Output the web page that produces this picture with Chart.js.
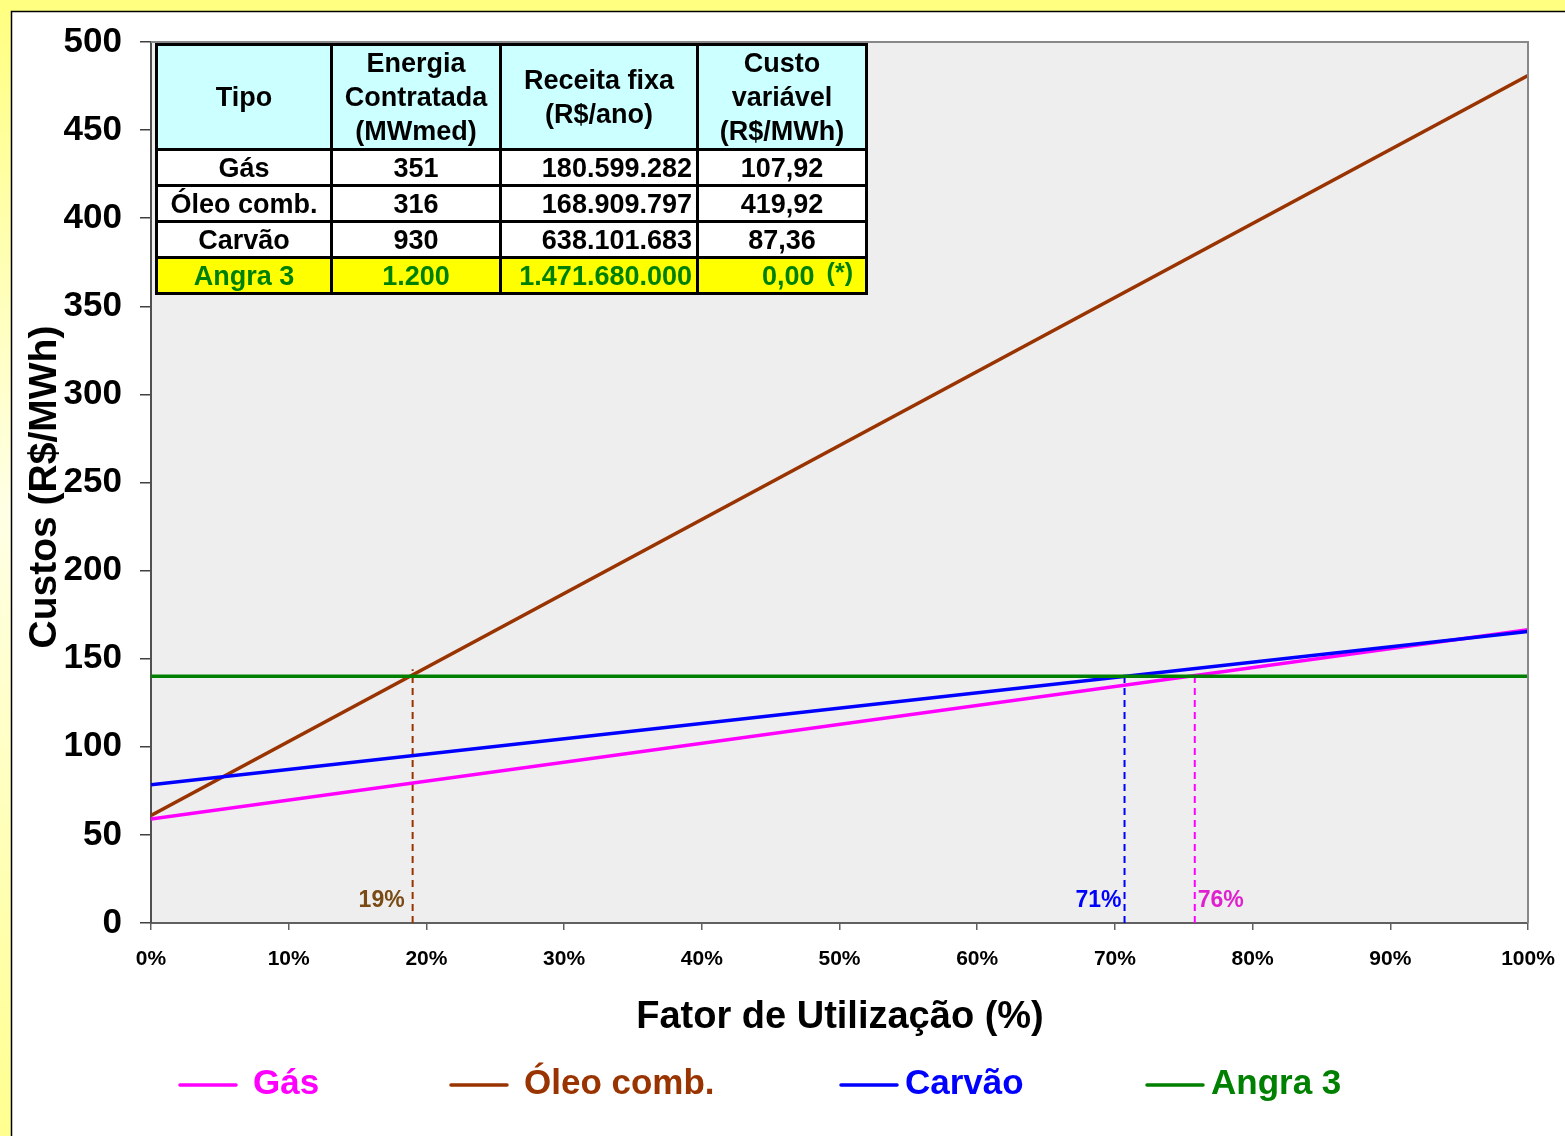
<!DOCTYPE html>
<html lang="pt-BR">
<head>
<meta charset="utf-8">
<title>Custos x Fator de Utilização</title>
<script src="https://cdn.jsdelivr.net/npm/chart.js@4.4.1/dist/chart.umd.min.js"></script>
<style>
    html, body { margin: 0; padding: 0; background: #fff; }
    #wrap { position: relative; width: 1565px; height: 1136px; overflow: hidden; }
    #grafico { position: absolute; left: 0; top: 0; }
    #tabela {
        position: absolute; left: 155px; top: 43px;
        width: 710px; height: 246px;
        border-collapse: collapse; table-layout: fixed;
        font-family: "Liberation Sans", Arial, sans-serif; font-weight: bold;
        font-size: 27px; color: #000;
    }
    #tabela td, #tabela th { border: 3px solid #000; padding: 0; text-align: center; line-height: 34px; }
    #tabela th { background: #ccffff; font-weight: bold; }
    #tabela td { background: #fff; line-height: 30px; }
    #tabela tr.angra td { background: #ffff00; color: #008000; }
    #tabela td.num { text-align: right; padding-right: 4px; }
    #tabela td.cv-angra { text-align: right; padding-right: 12px; }
    #tabela sup { font-size: 25px; vertical-align: 4px; margin-left: 12px; line-height: 0; }
</style>
</head>
<body>
<div id="wrap">
    <canvas id="grafico" width="1565" height="1136"></canvas>
    <table id="tabela">
        <colgroup><col style="width:175px"><col style="width:169px"><col style="width:197px"><col style="width:169px"></colgroup>
        <tr style="height:100px"><th>Tipo</th><th>Energia<br>Contratada<br>(MWmed)</th><th>Receita fixa<br>(R$/ano)</th><th>Custo<br>variável<br>(R$/MWh)</th></tr>
        <tr style="height:36px"><td>Gás</td><td>351</td><td class="num">180.599.282</td><td>107,92</td></tr>
        <tr style="height:36px"><td>Óleo comb.</td><td>316</td><td class="num">168.909.797</td><td>419,92</td></tr>
        <tr style="height:36px"><td>Carvão</td><td>930</td><td class="num">638.101.683</td><td>87,36</td></tr>
        <tr style="height:36px" class="angra"><td>Angra 3</td><td>1.200</td><td class="num">1.471.680.000</td><td class="cv-angra">0,00<sup>(*)</sup></td></tr>
    </table>
</div>
<script>
// Fator de utilização (%) nas extremidades das retas
const fatorUtilizacao = [0, 100];

const custoGas = [59, 166.5];
const custoOleo = [61, 481];
const custoCarvao = [78.5, 165.5];
const custoAngra = [140, 140];

// Pontos de cruzamento com Angra 3 (fator %, custo)
const cruzamentos = [19, 70.7, 75.8];
const cruzamentoLabels = ['19%', '71%', '76%'];
const cruzamentoTopo = [144, 143, 140];

const xTicks = [0, 10, 20, 30, 40, 50, 60, 70, 80, 90, 100];
const yTicks = [0, 50, 100, 150, 200, 250, 300, 350, 400, 450, 500];

const series = ['Gás', 'Óleo comb.', 'Carvão', 'Angra 3'];
const coresSeries = ['#ff00ff', '#993300', '#0000ff', '#008000'];
const coresCruzamento = ['#993300', '#0000ff', '#ff00ff'];
const coresLabelCruz = ['#7a4a14', '#0000ff', '#e020d0'];

const FONTE = '"Liberation Sans", Arial, sans-serif';

const graficoCustos = {
    chart: null,

    init: function () {
        const ctx = document.getElementById('grafico');
        this.chart = new Chart(ctx, {
            type: 'line',
            data: { datasets: this.montarDatasets() },
            options: {
                responsive: false,
                animation: false,
                events: [],
                layout: { padding: { top: 42, right: 37, left: 0, bottom: 0 } },
                plugins: { legend: { display: false }, tooltip: { enabled: false } },
                scales: {
                    x: {
                        type: 'linear', min: 0, max: 100,
                        afterBuildTicks: scale => { scale.ticks = xTicks.map(v => ({ value: v })); },
                        afterFit: scale => {
                            scale.height = 213;
                            scale.paddingLeft = 0;
                            scale.paddingRight = 0;
                        },
                        ticks: {
                            callback: v => v + '%', color: '#000', padding: 17,
                            maxRotation: 0, autoSkip: false,
                            font: { family: FONTE, size: 21, weight: 'bold' }
                        },
                        grid: { drawOnChartArea: false, drawTicks: true, tickLength: 7, color: '#606060', lineWidth: 1.5 },
                        border: { display: true, color: '#606060', width: 2 }
                    },
                    y: {
                        min: 0, max: 500,
                        afterBuildTicks: scale => { scale.ticks = yTicks.map(v => ({ value: v })); },
                        afterFit: scale => { scale.width = 151; },
                        ticks: {
                            color: '#000', padding: 18,
                            font: { family: FONTE, size: 35, weight: 'bold' }
                        },
                        grid: { drawOnChartArea: false, drawTicks: true, tickLength: 11, color: '#404040', lineWidth: 1.5 },
                        border: { display: true, color: '#505050', width: 2 }
                    }
                }
            },
            plugins: [this.pluginFundo, this.pluginTextos]
        });
    },

    montarDatasets: function () {
        const valores = [custoGas, custoOleo, custoCarvao, custoAngra];
        const datasets = [];
        // linhas tracejadas dos cruzamentos (desenhadas antes das retas)
        cruzamentos.forEach((fx, i) => {
            datasets.push({
                label: 'cruz ' + cruzamentoLabels[i],
                data: [{ x: fx, y: 0 }, { x: fx, y: cruzamentoTopo[i] }],
                borderColor: coresCruzamento[i], borderWidth: 2, borderDash: [7, 5],
                pointRadius: 0, fill: false, order: 5
            });
        });
        series.forEach((nome, i) => {
            datasets.push({
                label: nome,
                data: fatorUtilizacao.map((fx, j) => ({ x: fx, y: valores[i][j] })),
                borderColor: coresSeries[i], borderWidth: 3.5,
                pointRadius: 0, fill: false, tension: 0, order: 4 - i
            });
        });
        return datasets;
    },

    pluginFundo: {
        id: 'fundo',
        beforeDraw: function (chart) {
            const c = chart.ctx;
            const w = chart.width, h = chart.height;
            c.save();
            const grad = c.createLinearGradient(0, 0, 0, h);
            grad.addColorStop(0, '#ffff80');
            grad.addColorStop(0.45, '#ffffe6');
            grad.addColorStop(1, '#ffff90');
            c.fillStyle = '#ffff80';
            c.fillRect(0, 0, w, 12);
            c.fillStyle = grad;
            c.fillRect(0, 12, 12, h);
            c.fillStyle = '#fff';
            c.fillRect(12, 12, w - 12, h - 12);
            c.strokeStyle = '#000';
            c.lineWidth = 1.5;
            c.beginPath();
            c.moveTo(11.5, h); c.lineTo(11.5, 11.5); c.lineTo(w, 11.5);
            c.stroke();
            const a = chart.chartArea;
            c.fillStyle = '#eeeeee';
            c.fillRect(a.left, a.top, a.right - a.left, a.bottom - a.top);
            c.restore();
        },
        afterDraw: function (chart) {
            const c = chart.ctx;
            const a = chart.chartArea;
            c.save();
            c.strokeStyle = '#888';
            c.lineWidth = 2;
            c.beginPath();
            c.moveTo(a.left, a.top); c.lineTo(a.right, a.top); c.lineTo(a.right, a.bottom);
            c.stroke();
            c.restore();
        }
    },

    pluginTextos: {
        id: 'textos',
        afterDraw: function (chart) {
            const c = chart.ctx;
            const sx = chart.scales.x;
            const sy = chart.scales.y;
            c.save();
            c.textBaseline = 'middle';

            // rótulos dos cruzamentos
            c.font = 'bold 23px ' + FONTE;
            cruzamentos.forEach((fx, i) => {
                const px = sx.getPixelForValue(fx);
                c.fillStyle = coresLabelCruz[i];
                if (i < 2) {
                    c.textAlign = 'right';
                    c.fillText(cruzamentoLabels[i], px - (i === 0 ? 8 : 3), sy.getPixelForValue(0) - 22);
                } else {
                    c.textAlign = 'left';
                    c.fillText(cruzamentoLabels[i], px + 3, sy.getPixelForValue(0) - 22);
                }
            });

            // títulos dos eixos
            c.fillStyle = '#000';
            c.font = 'bold 38px ' + FONTE;
            c.textAlign = 'center';
            c.fillText('Fator de Utilização (%)', 840, 1018);
            c.save();
            c.translate(45, 487);
            c.rotate(-Math.PI / 2);
            c.font = 'bold 39px ' + FONTE;
            c.fillText('Custos (R$/MWh)', 0, 0);
            c.restore();

            // legenda
            const legX = [180, 451, 841, 1147];
            c.font = 'bold 35px ' + FONTE;
            c.textAlign = 'left';
            series.forEach((nome, i) => {
                c.strokeStyle = coresSeries[i];
                c.lineWidth = 3.5;
                c.lineCap = 'round';
                c.beginPath();
                c.moveTo(legX[i], 1085);
                c.lineTo(legX[i] + 56, 1085);
                c.stroke();
                c.fillStyle = coresSeries[i];
                const gap = (i >= 2) ? 8 : 17;
                c.fillText(nome, legX[i] + 56 + gap, 1084);
            });
            c.restore();
        }
    }
};

graficoCustos.init();
</script>
</body>
</html>
